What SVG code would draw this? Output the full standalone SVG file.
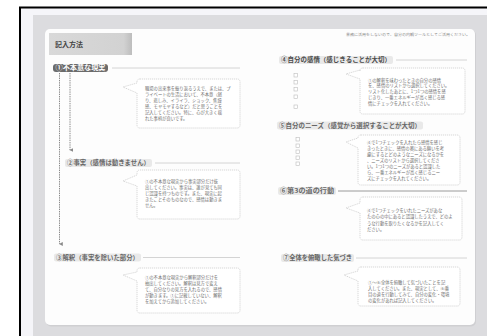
<svg xmlns="http://www.w3.org/2000/svg" width="487" height="336" viewBox="0 0 487 336">
<defs>
<style>
.jp{font-family:"Noto Sans CJK JP","Noto Sans",sans-serif;}
.lbl{font-size:6.3px;font-weight:bold;fill:#666;}
.lblbg{fill:#e9e9e9;}
.rule{stroke:#cfcfcf;stroke-width:0.9;fill:none;}
.bub{fill:#ffffff;stroke:#cdcdcd;stroke-width:0.8;stroke-dasharray:1.2 0.8;}
.bt{font-size:4.3px;fill:#6e6e6e;}
.cb{fill:#fff;stroke:#bdbdbd;stroke-width:0.6;}
.dash{stroke:#8a8a8a;stroke-width:1;stroke-dasharray:1.4 0.9;fill:none;}
</style>
<marker id="ah" viewBox="0 0 6 6" refX="3" refY="5" markerWidth="4" markerHeight="4" orient="auto-start-reverse" markerUnits="userSpaceOnUse">
<path d="M0,0 L6,0 L3,6 Z" fill="#8a8a8a"/>
</marker>
<linearGradient id="tg" x1="0" y1="0" x2="1" y2="0">
<stop offset="0" stop-color="#d9d9d9"/>
<stop offset="0.9" stop-color="#d2d2d2"/>
<stop offset="1" stop-color="#bdbdbd"/>
</linearGradient>
</defs>

<!-- frame -->
<rect x="0" y="0" width="487" height="336" fill="#ffffff"/>
<rect x="20" y="8" width="467" height="328" fill="#f5f5f9"/>
<rect x="33" y="15" width="454" height="321" fill="#dcdcdf"/>
<line x1="19" y1="7.5" x2="487" y2="7.5" stroke="#000" stroke-width="2"/>
<line x1="20" y1="7" x2="20" y2="336" stroke="#000" stroke-width="2"/>
<rect x="46" y="30" width="430" height="296.5" rx="5" fill="#cfcfd2"/>
<rect x="45" y="29" width="430" height="296" rx="5" fill="#fdfdfd"/>

<g id="title">
<rect x="49" y="33" width="83" height="22" fill="url(#tg)"/>
<text class="jp" x="55" y="47" font-size="7" font-weight="bold" fill="#444">記入方法</text>
</g>

<g id="note">
<text class="jp" x="346" y="35.5" font-size="3.9" fill="#8a8a8a" textLength="124" lengthAdjust="spacingAndGlyphs">業務に活用をしないので、自分の内観ツールとしてご活用ください。</text>
</g>

<g id="connectors">
<line class="dash" x1="59.5" y1="73" x2="59.5" y2="244" marker-end="url(#ah)"/>
<line class="dash" x1="70" y1="73" x2="70" y2="150" marker-end="url(#ah)"/>
</g>

<g id="s1">
<rect x="53" y="64" width="55" height="8" rx="3" fill="#6b6b6b"/>
<text class="jp" x="55.5" y="70.3" font-size="6.3" font-weight="bold" fill="#fff" textLength="50" lengthAdjust="spacingAndGlyphs">①不本意な現実</text>
<line class="rule" x1="112" y1="68" x2="240" y2="68"/>
</g>
<g id="b1">
<path class="bub" d="M140,79 H237 Q240,79 240,82 V125 Q240,128 237,128 H140 Q137,128 137,125 V93 L123,87 L137,83 V82 Q137,79 140,79 Z"/>
<g class="jp bt">
<text x="145" y="89.5">職場の出来事を振り返るうえで、または、プ</text>
<text x="145" y="95.5">ライベートの生活において、不本意（怒</text>
<text x="145" y="101.5">り、悲しみ、イライラ、ショック、焦燥</text>
<text x="145" y="107.5">感、モヤモヤするなど）だと思うことを</text>
<text x="145" y="113.5">記入してください。特に、心が大きく揺</text>
<text x="145" y="119.5">れた事柄が良いです。</text>
</g>
</g>

<g id="s2">
<rect class="lblbg" x="65" y="159" width="87" height="8" rx="2"/>
<text class="jp lbl" x="67" y="165.3" textLength="83" lengthAdjust="spacingAndGlyphs">②事実（感情は動きません）</text>
<line class="rule" x1="155" y1="163" x2="240" y2="163"/>
</g>
<g id="b2">
<path class="bub" d="M140,170 H237 Q240,170 240,173 V216 Q240,219 237,219 H140 Q137,219 137,216 V186 L123,181 L137,175 V173 Q137,170 140,170 Z"/>
<g class="jp bt">
<text x="145" y="183">①の不本意な現実から事実部分だけ抜</text>
<text x="145" y="189">出してください。事実は、誰が見ても同</text>
<text x="145" y="195">じ認識を持つものです。また、現実に起</text>
<text x="145" y="201">きたことそのものなので、感情は動きま</text>
<text x="145" y="207">せん。</text>
</g>
</g>

<g id="s3">
<rect class="lblbg" x="54" y="253.5" width="87" height="8" rx="2"/>
<text class="jp lbl" x="56" y="259.8" textLength="83" lengthAdjust="spacingAndGlyphs">③解釈（事実を除いた部分）</text>
<line class="rule" x1="143" y1="257.5" x2="240" y2="257.5"/>
</g>
<g id="b3">
<path class="bub" d="M140,268 H237 Q240,268 240,271 V310 Q240,313 237,313 H140 Q137,313 137,310 V281 L123,275 L137,272 V271 Q137,268 140,268 Z"/>
<g class="jp bt">
<text x="145" y="278.5">①の不本意な現実から解釈部分だけを</text>
<text x="145" y="284.5">抽出してください。解釈は見方で変え</text>
<text x="145" y="290.5">て、自分なりの見方を入れるので、感情</text>
<text x="145" y="296.5">が動きます。①に記載していない、解釈</text>
<text x="145" y="302.5">を加えてから追加してください。</text>
</g>
</g>

<g id="s4">
<rect class="lblbg" x="279" y="56" width="114" height="8" rx="2"/>
<text class="jp lbl" x="281" y="62.3" textLength="110" lengthAdjust="spacingAndGlyphs" style="fill:#4a4a4a">④自分の感情（感じきることが大切）</text>
<line class="rule" x1="396" y1="60" x2="467" y2="60"/>
<rect class="cb" x="294" y="73.5" width="3.5" height="3.5"/>
<rect class="cb" x="294" y="80.5" width="3.5" height="3.5"/>
<rect class="cb" x="294" y="87.5" width="3.5" height="3.5"/>
<rect class="cb" x="294" y="95" width="3.5" height="3.5"/>
<rect class="cb" x="294" y="105" width="3.5" height="3.5"/>
</g>
<g id="b4">
<path class="bub" d="M363,68 H462 Q465,68 465,71 V111 Q465,114 462,114 H363 Q360,114 360,111 V79 L346,74 L360,70 V71 Q360,68 363,68 Z"/>
<g class="jp bt">
<text x="368" y="81.5">①の解釈を味わったときの自分の感情</text>
<text x="368" y="87.3">を、感情のリストから選択してください。</text>
<text x="368" y="93">リスト化したあとに、1つ1つの感情を感</text>
<text x="368" y="98.7">じきり、一番エネルギーが高く感じる感</text>
<text x="368" y="104.5">情にチェックを入れてください。</text>
</g>
</g>

<g id="s5">
<rect class="lblbg" x="277" y="121.5" width="146" height="8" rx="2"/>
<text class="jp lbl" x="279" y="127.8" textLength="142" lengthAdjust="spacingAndGlyphs">⑤自分のニーズ（感覚から選択することが大切）</text>
<rect class="cb" x="296" y="137.5" width="3.5" height="3.5"/>
<rect class="cb" x="296" y="144" width="3.5" height="3.5"/>
<rect class="cb" x="296" y="150" width="3.5" height="3.5"/>
<rect class="cb" x="296" y="156" width="3.5" height="3.5"/>
<rect class="cb" x="296" y="162" width="3.5" height="3.5"/>
</g>
<g id="b5">
<path class="bub" d="M361,135 H457 Q460,135 460,138 V182 Q460,185 457,185 H361 Q358,185 358,182 V148 L346,142 L358,138 V138 Q358,135 361,135 Z"/>
<g class="jp bt">
<text x="367" y="144.2">④で1つチェックを入れたら感情を感じ</text>
<text x="367" y="149.8">きったときに、感情の奥にある願いを考</text>
<text x="367" y="155.8">慮にするとどのようなニーズになるかを</text>
<text x="367" y="161.8">、ニーズのリストから選択してくださ</text>
<text x="367" y="167.5">い。1つ1つのニーズがあると認識した</text>
<text x="367" y="173.5">ら、一番エネルギーが高く感じるニー</text>
<text x="367" y="179.5">ズにチェックを入れてください。</text>
</g>
</g>

<g id="s6">
<rect class="lblbg" x="278" y="187" width="58" height="8" rx="2"/>
<text class="jp lbl" x="280" y="193.3" textLength="54" lengthAdjust="spacingAndGlyphs">⑥第3の道の行動</text>
<line x1="338" y1="191" x2="467" y2="191" stroke="#8f8f8f" stroke-width="0.9"/>
</g>
<g id="b6">
<path class="bub" d="M363,197 H459 Q462,197 462,200 V237 Q462,240 459,240 H363 Q360,240 360,237 V213 L346,208 L360,203 V200 Q360,197 363,197 Z"/>
<g class="jp bt">
<text x="367" y="212">④で1つチェックをいれたニーズがあな</text>
<text x="367" y="218">たの心の中にあると認識したうえで、どのよ</text>
<text x="367" y="224.5">うな行動を取りたくなるかを記入してく</text>
<text x="367" y="231">ださい。</text>
</g>
</g>

<g id="s7">
<rect class="lblbg" x="281" y="254" width="73" height="8" rx="2"/>
<text class="jp lbl" x="283" y="260.3" textLength="69" lengthAdjust="spacingAndGlyphs">⑦全体を俯瞰した気づき</text>
<line class="rule" x1="356" y1="258" x2="467" y2="258"/>
</g>
<g id="b7">
<path class="bub" d="M361,267 H457 Q460,267 460,270 V303 Q460,306 457,306 H361 Q358,306 358,303 V281 L344,275 L358,271 V270 Q358,267 361,267 Z"/>
<g class="jp bt">
<text x="368" y="283.5">①〜⑥全体を俯瞰して気づいたことを記</text>
<text x="368" y="289.5">入してください。また、現実として、⑥番</text>
<text x="368" y="295.5">目の道を行動してみて、自分の変化・環境</text>
<text x="368" y="301.5">の変化があれば記入してください。</text>
</g>
</g>
</svg>
